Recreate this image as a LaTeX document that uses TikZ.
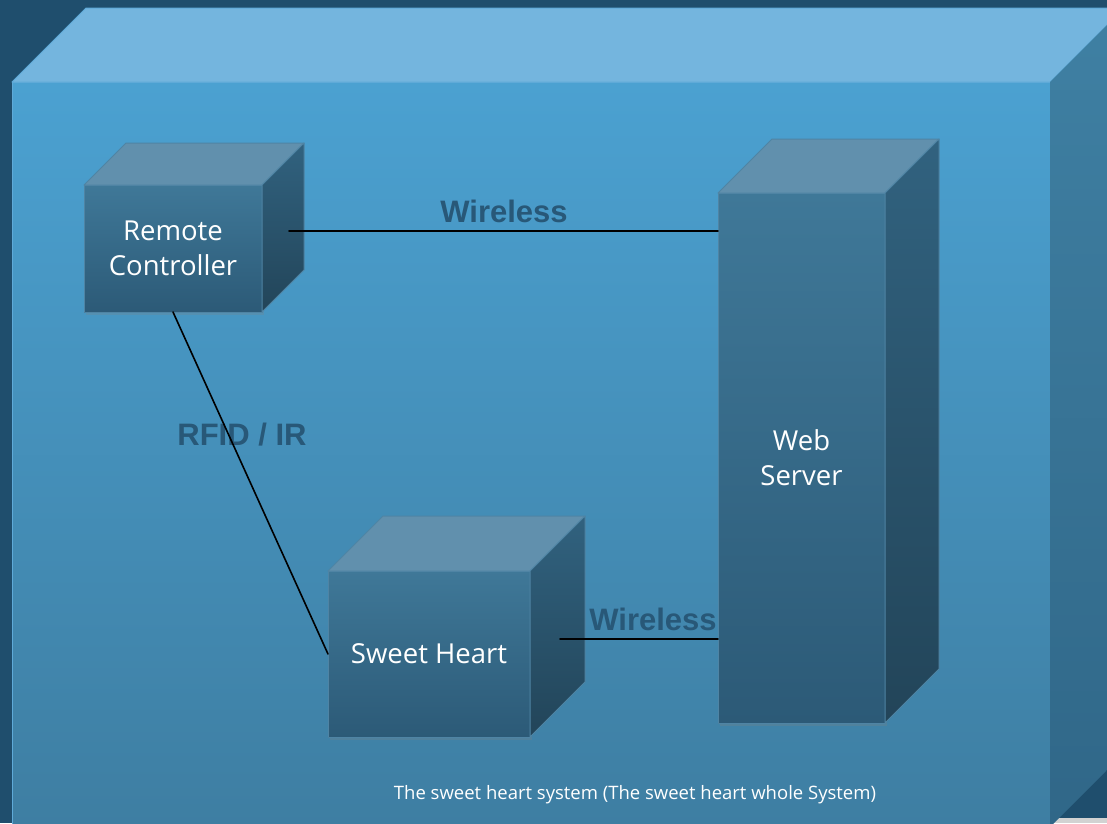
\documentclass[tikz,border=0pt]{standalone}
\usepackage{fontspec}
\setmainfont{Open Sans}
\newfontfamily\labelfont{Liberation Sans}
\usepackage{xcolor}
\usepackage{tikz}
\usetikzlibrary{positioning, calc, shadows}

\definecolor{BgDark}{HTML}{1F4E6D}
\definecolor{SysTop}{HTML}{74B5DE}
\definecolor{SysFrontTop}{HTML}{4BA1D1}
\definecolor{SysFrontBottom}{HTML}{3E7EA2}
\definecolor{SysSideTop}{HTML}{3F80A3}
\definecolor{SysSideBottom}{HTML}{306788}
\definecolor{SysEdge}{HTML}{5FAAD8}
\definecolor{DevTop}{HTML}{6190AD}
\definecolor{DevFrontTop}{HTML}{3F7898}
\definecolor{DevFrontBottom}{HTML}{2C5A77}
\definecolor{DevSideTop}{HTML}{31627F}
\definecolor{DevEdge}{HTML}{4F84A4}
\definecolor{LabelBlue}{HTML}{285878}

% top and right faces of a box node
\newcommand\boxfaces[5]{%
  \filldraw[fill=#3, draw=#5, line width=1pt] (#1.north west) -- ++(#2,-#2)
    -- ($(#1.north east)+(#2,-#2)$) -- (#1.north east) -- cycle;
  \shadedraw[top color=#4, bottom color=#4!70!black, draw=#5, line width=1pt]
    (#1.north east) -- ++(#2,-#2) -- ($(#1.south east)+(#2,-#2)$) -- (#1.south east) -- cycle;
}

\begin{document}
\begin{tikzpicture}[
    x=1pt, y=-1pt,
    line cap=round,
    line join=round,
    device/.style={draw=DevEdge, line width=1pt, outer sep=0pt, inner sep=0pt,
        top color=DevFrontTop, bottom color=DevFrontBottom, text=white,
        font=\fontsize{27.5}{35}\selectfont, align=center,
        drop shadow={shadow xshift=2pt, shadow yshift=-3pt, opacity=0.25}},
    link/.style={line width=1.6pt, black},
    linktext/.style={font=\labelfont\bfseries\fontsize{31}{31}\selectfont,
        text=LabelBlue, anchor=base, inner sep=0pt}
]

\useasboundingbox (0,0) rectangle (1107,823);
\fill[BgDark] (0,0) rectangle (1107,823);
\fill[gray!35] (1040,818) rectangle (1107,823);

% the whole system
\node[draw=SysEdge, line width=1pt, outer sep=0pt, inner sep=0pt,
    top color=SysFrontTop, bottom color=SysFrontBottom,
    minimum width=1038, minimum height=745] (system) at (531,454.5) {};
\filldraw[fill=SysTop, draw=SysEdge, line width=1pt] (system.north west) -- ++(74,-74)
    -- ($(system.north east)+(74,-74)$) -- (system.north east) -- cycle;
\shade[top color=SysSideTop, bottom color=SysSideBottom]
    (system.north east) -- ++(74,-74) -- ($(system.south east)+(74,-74)$) -- (system.south east) -- cycle;

% devices
\node[device, minimum width=178, minimum height=127] (remote) at (173,248.5) {Remote\\Controller};
\boxfaces{remote}{42}{DevTop}{DevSideTop}{DevEdge}

\node[device, minimum width=202, minimum height=166] (sweet) at (429,654) {Sweet Heart};
\boxfaces{sweet}{55}{DevTop}{DevSideTop}{DevEdge}

\node[device, minimum width=167, minimum height=530] (web) at (801.5,458) {Web\\Server};
\boxfaces{web}{54}{DevTop}{DevSideTop}{DevEdge}

\coordinate (rcport) at (289,231);
\coordinate (shport) at (560,639);

% labels
\node[linktext] (wltop) at (504,222) {Wireless};
\node[linktext] (rfid) at (242,445) {RFID / IR};
\node[linktext] (wlbottom) at (653,630) {Wireless};

% links
\draw[link] (rcport) -- (rcport -| web.west);
\draw[link] (remote.south) -- (sweet.west);
\draw[link] (shport) -- (shport -| web.west);

\node[text=white, font=\fontsize{18.5}{22}\selectfont] (caption) at (635,795)
    {The sweet heart system (The sweet heart whole System)};

\end{tikzpicture}
\end{document}
